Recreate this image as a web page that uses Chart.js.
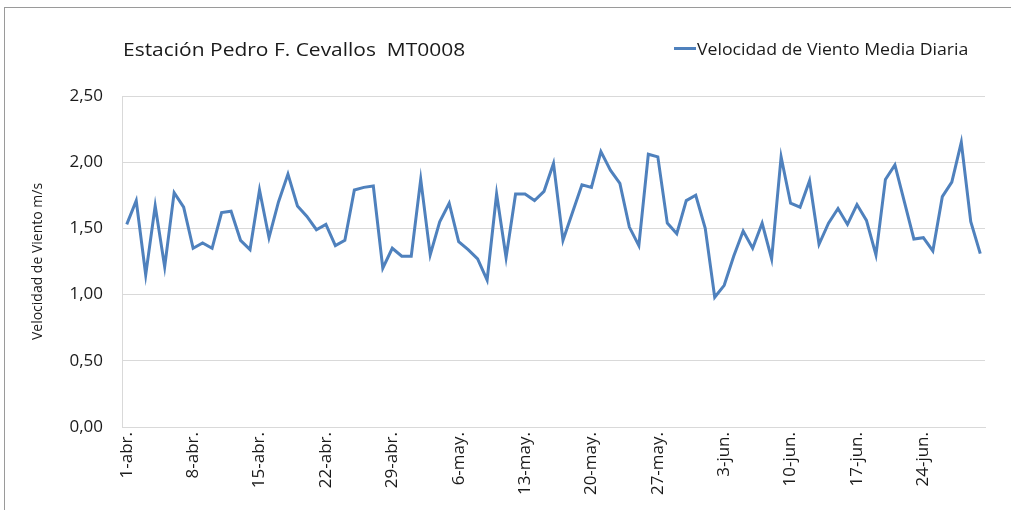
<!DOCTYPE html>
<html>
<head>
<meta charset="utf-8">
<script src="https://cdn.jsdelivr.net/npm/chart.js@4.4.1/dist/chart.umd.min.js"></script>
<style>
   body{ margin:0; background:#fff; }
   .wrap{ position:relative; width:1011px; height:510px; overflow:hidden; }
   .frame{ position:absolute; left:4px; top:7px; width:1100px; height:600px; border-left:1px solid #9a9a9a; border-top:1px solid #9a9a9a; }
   canvas{ position:absolute; left:0; top:0; }
   .title{ position:absolute; left:123px; top:40px; font:18px/18px 'Open Sans', sans-serif; color:#1a1a1a; white-space:pre; transform:scaleX(1.165); transform-origin:0 0; }
   .legend{ position:absolute; left:697px; top:41px; font:16px/16px 'Open Sans', sans-serif; color:#1a1a1a; white-space:pre; transform:scaleX(1.105); transform-origin:0 0; }
   .legend-line{ position:absolute; left:674px; top:47px; width:22px; height:3px; background:#4f81bd; }
</style>
</head>
<body>
<div class="wrap">
   <div class="frame"></div>
   <canvas id="windChart" width="1011" height="510"></canvas>
   <div class="title">Estación Pedro F. Cevallos  MT0008</div>
   <div class="legend-line"></div>
   <div class="legend" id="legend"></div>
</div>
<script>
// months covered (abr - jun), days per month
const months = ['abr.', 'may.', 'jun.'];
const monthDays = [30, 31, 30];

// daily mean wind speed, m/s (1-abr .. 30-jun)
const windSpeed = [
   1.53, 1.71, 1.15, 1.67, 1.21, 1.77, 1.66, 1.35, 1.39, 1.35,
   1.62, 1.63, 1.41, 1.34, 1.79, 1.43, 1.70, 1.91, 1.67, 1.59,
   1.49, 1.53, 1.37, 1.41, 1.79, 1.81, 1.82, 1.20, 1.35, 1.29,
   1.29, 1.87, 1.30, 1.55, 1.69, 1.40, 1.34, 1.27, 1.11, 1.76,
   1.28, 1.76, 1.76, 1.71, 1.78, 1.99, 1.41, 1.62, 1.83, 1.81,
   2.08, 1.94, 1.84, 1.51, 1.37, 2.06, 2.04, 1.54, 1.46, 1.71,
   1.75, 1.50, 0.98, 1.07, 1.29, 1.48, 1.35, 1.54, 1.27, 2.04,
   1.69, 1.66, 1.86, 1.38, 1.54, 1.65, 1.53, 1.68, 1.56, 1.30,
   1.87, 1.98, 1.70, 1.42, 1.43, 1.33, 1.74, 1.85, 2.15, 1.55,
   1.31
];

const yTicks = [0, 0.5, 1, 1.5, 2, 2.5];
const labelEvery = 7;

let dayLabels = [];
months.forEach((m, i) => {
   for (let d = 1; d <= monthDays[i]; d++) dayLabels.push(d + '-' + m);
});

const fontFamily = "'Open Sans', sans-serif";

var ctx = document.getElementById('windChart').getContext('2d');
var windChart = new Chart(ctx, {
   type: 'line',
   data: {
      labels: dayLabels,
      datasets: [{
         label: 'Velocidad de Viento Media Diaria',
         data: windSpeed,
         borderColor: '#4f81bd',
         borderWidth: 3,
         pointRadius: 0,
         tension: 0,
         fill: false
      }]
   },
   options: {
      responsive: false,
      animation: false,
      layout: { padding: { left: 26, top: 96, right: 26, bottom: 0 } },
      plugins: {
         legend: { display: false },
         title: { display: false },
         tooltip: { enabled: false }
      },
      scales: {
         x: {
            offset: true,
            grid: { display: false, drawTicks: false },
            border: { color: '#d9d9d9', width: 1 },
            ticks: {
               autoSkip: false,
               minRotation: 90,
               maxRotation: 90,
               padding: 5,
               color: '#1a1a1a',
               font: { family: fontFamily, size: 17 },
               callback: function (val, i) {
                  return i % labelEvery === 0 ? this.getLabelForValue(val) : '';
               }
            },
            afterFit: (scale) => { scale.height = 510 - 427; }
         },
         y: {
            min: 0,
            max: 2.5,
            afterBuildTicks: (scale) => { scale.ticks = yTicks.map(v => ({ value: v })); },
            grid: { color: '#d9d9d9', drawTicks: false },
            border: { color: '#d9d9d9', width: 1 },
            ticks: {
               padding: 19,
               color: '#1a1a1a',
               font: { family: fontFamily, size: 17 },
               callback: (v) => v.toFixed(2).replace('.', ',')
            },
            title: {
               display: true,
               text: 'Velocidad de Viento m/s',
               color: '#1a1a1a',
               font: { family: fontFamily, size: 14 },
               padding: { top: 4, bottom: 0 }
            },
            afterFit: (scale) => { scale.width = 122 - 26; }
         }
      }
   }
});

let legend = document.getElementById('legend');
legend.textContent = windChart.data.datasets[0].label;
</script>
</body>
</html>
